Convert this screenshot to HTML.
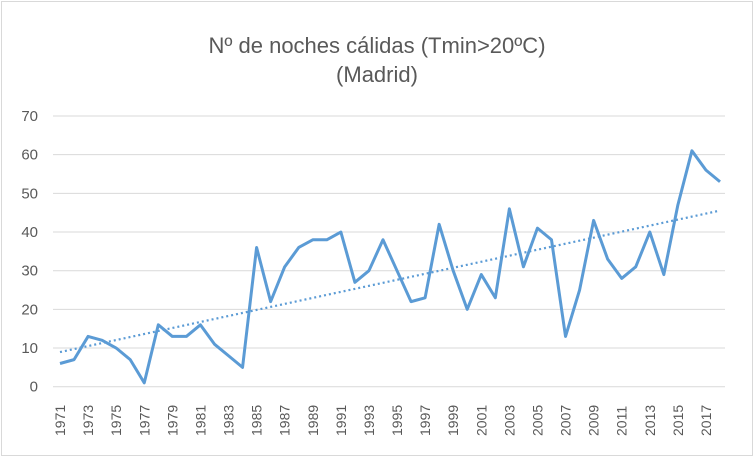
<!DOCTYPE html>
<html><head><meta charset="utf-8"><style>
body{margin:0;background:#fff;}
svg{display:block;font-family:"Liberation Sans",sans-serif;}
</style></head><body>
<svg id="chart" width="754" height="457">
<rect x="1.5" y="1.5" width="751" height="454" fill="#fff" stroke="#d9d9d9"/>
<text x="377" y="53" text-anchor="middle" font-size="22" fill="#595959">Nº de noches cálidas (Tmin&gt;20ºC)</text>
<text x="377" y="82" text-anchor="middle" font-size="22" fill="#595959">(Madrid)</text>
<g id="grid"></g><g id="ylab"></g><g id="xlab"></g><g id="series"></g>
</svg>
<script>
const years=[];for(let y=1971;y<=2018;y++)years.push(y);
const values=[6,7,13,12,10,7,1,16,13,13,16,11,8,5,36,22,31,36,38,38,40,27,30,38,30,22,23,42,30,20,29,23,46,31,41,38,13,25,43,33,28,31,40,29,47,61,56,53];
const yTicks=[0,10,20,30,40,50,60,70];
const NS="http://www.w3.org/2000/svg";
const x=i=>60+i*(660/47);
const y=v=>386.7-v*3.867;
function mk(t,a,p){const e=document.createElementNS(NS,t);for(const k in a)e.setAttribute(k,a[k]);document.getElementById(p).appendChild(e);return e;}
yTicks.forEach(t=>{
 const l=mk('line',{x1:53,x2:725,y1:y(t),y2:y(t),stroke:'#d9d9d9','stroke-width':1},'grid');
 
 
 const tx=mk('text',{x:38,y:y(t)+5,'text-anchor':'end','font-size':15,fill:'#595959'},'ylab');
 tx.textContent=t;
 
 
});
years.forEach((yr,i)=>{
 if(i%2)return;
 const tx=mk('text',{transform:`translate(${x(i)+5},${436}) rotate(-90)`,'font-size':14,fill:'#595959'},'xlab');
 tx.textContent=yr;
 
 
});
const n=values.length;let sx=0,sy=0,sxy=0,sxx=0;
values.forEach((v,i)=>{sx+=i;sy+=v;sxy+=i*v;sxx+=i*i;});
const b=(n*sxy-sx*sy)/(n*sxx-sx*sx),a=(sy-b*sx)/n;
const tr=mk('line',{x1:x(0),y1:y(a),x2:x(n-1),y2:y(a+b*(n-1)),stroke:'#5b9bd5','stroke-width':2.2,'stroke-dasharray':'2 3'},'series');


const ln=mk('polyline',{points:values.map((v,i)=>x(i)+','+y(v)).join(' '),fill:'none',stroke:'#5b9bd5','stroke-width':3,'stroke-linejoin':'round'},'series');


</script>
</body></html>
